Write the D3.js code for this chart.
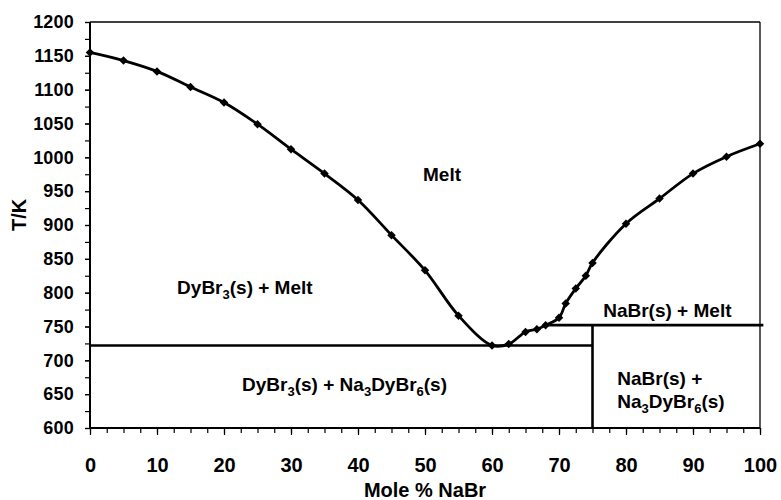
<!DOCTYPE html>
<html>
<head>
<meta charset="utf-8">
<script src="https://cdn.jsdelivr.net/npm/d3@7"></script>
<style>
  html, body { margin: 0; padding: 0; background: #fff; }
  svg { display: block; font-family: "Liberation Sans", Arial, sans-serif; font-weight: bold; }
</style>
</head>
<body>
<script>
// liquidus points
const molePct = [0, 5, 10, 15, 20, 25, 30, 35, 40, 45, 50, 55, 60, 62.5, 65, 66.7, 68, 70, 71, 72.5, 74, 75, 80, 85, 90, 95, 100];
const tempK = [1155, 1143, 1127, 1104, 1081, 1049, 1012, 976, 937, 885, 833, 766, 722, 724, 742, 746, 752, 763, 784, 806, 825, 844, 902, 939, 976, 1001, 1020];

const xTicks = [0, 10, 20, 30, 40, 50, 60, 70, 80, 90, 100];
const yTicks = [600, 650, 700, 750, 800, 850, 900, 950, 1000, 1050, 1100, 1150, 1200];

// invariant lines: [x0, T0, x1, T1]
const eutectic = [0, 722, 75, 722];
const peritectic = [68.3, 752, 100.5, 752];
const compound = [75, 600, 75, 752];

// phase field names (_n = subscript) and where they sit, in data units
const fieldNames = ["Melt", "DyBr_3(s) + Melt", "DyBr_3(s) + Na_3DyBr_6(s)", "NaBr(s) + Melt", "NaBr(s) +", "Na_3DyBr_6(s)"];
const fieldX = [49.7, 13.0, 22.7, 76.6, 78.7, 78.7];
const fieldT = [965, 798, 655, 764, 663.5, 629.6];

const width = 781;
const height = 500;
const margin = { top: 22, right: 21, bottom: 72, left: 90 };

const svg = d3.select("body").append("svg")
    .attr("width", width)
    .attr("height", height);

svg.append("rect").attr("width", width).attr("height", height).attr("fill", "#fff");

const x = d3.scaleLinear().domain([0, 100]).range([margin.left, width - margin.right]);
const y = d3.scaleLinear().domain([600, 1200]).range([height - margin.bottom, margin.top]);

// minor ticks
svg.append("g")
    .attr("transform", `translate(0,${y(600)})`)
    .call(d3.axisBottom(x).tickValues(d3.range(0, 100.1, 2.5)).tickSize(5).tickFormat(""))
    .call(g => g.select(".domain").remove())
    .call(g => g.selectAll("line").attr("stroke-width", 1.2));

svg.append("g")
    .attr("transform", `translate(${x(0)},0)`)
    .call(d3.axisLeft(y).tickValues(d3.range(600, 1200.1, 25)).tickSize(5).tickFormat(""))
    .call(g => g.select(".domain").remove())
    .call(g => g.selectAll("line").attr("stroke-width", 1.2));

// major ticks with labels
svg.append("g")
    .attr("transform", `translate(0,${y(600)})`)
    .call(d3.axisBottom(x).tickValues(xTicks).tickSize(7).tickPadding(23).tickFormat(d3.format("d")))
    .call(g => g.select(".domain").remove())
    .call(g => g.selectAll("line").attr("stroke-width", 1.2))
    .call(g => g.selectAll("text")
        .attr("font-family", "Liberation Sans, Arial, sans-serif")
        .attr("font-weight", "bold")
        .attr("font-size", 20)
        .attr("fill", "#000"));

svg.append("g")
    .attr("transform", `translate(${x(0)},0)`)
    .call(d3.axisLeft(y).tickValues(yTicks).tickSize(5).tickPadding(11).tickFormat(d3.format("d")))
    .call(g => g.select(".domain").remove())
    .call(g => g.selectAll("line").attr("stroke-width", 1.2))
    .call(g => g.selectAll("text")
        .attr("font-family", "Liberation Sans, Arial, sans-serif")
        .attr("font-weight", "bold")
        .attr("font-size", 18)
        .attr("letter-spacing", 0.2)
        .attr("fill", "#000"));

// frame: thick left/bottom, thin top/right
svg.append("line")
    .attr("x1", x(0)).attr("x2", x(100)).attr("y1", y(1200)).attr("y2", y(1200))
    .attr("stroke", "#000").attr("stroke-width", 1.3);
svg.append("line")
    .attr("x1", x(100)).attr("x2", x(100)).attr("y1", y(1200)).attr("y2", y(600))
    .attr("stroke", "#000").attr("stroke-width", 1.3);
svg.append("line")
    .attr("x1", x(0)).attr("x2", x(0)).attr("y1", y(1200)).attr("y2", y(600) + 1)
    .attr("stroke", "#000").attr("stroke-width", 2);
svg.append("line")
    .attr("x1", x(0) - 1).attr("x2", x(100)).attr("y1", y(600)).attr("y2", y(600))
    .attr("stroke", "#000").attr("stroke-width", 2);

// invariant lines
for (const [x0, t0, x1, t1] of [eutectic, peritectic, compound]) {
    svg.append("line")
        .attr("x1", x(x0)).attr("y1", y(t0))
        .attr("x2", x(x1)).attr("y2", y(t1))
        .attr("stroke", "#000")
        .attr("stroke-width", 2.6);
}

// liquidus
const points = molePct.map((m, i) => [m, tempK[i]]);

const line = d3.line()
    .x(d => x(d[0]))
    .y(d => y(d[1]))
    .curve(d3.curveCatmullRom.alpha(0.5));

svg.append("path")
    .datum(points)
    .attr("fill", "none")
    .attr("stroke", "#000")
    .attr("stroke-width", 2.8)
    .attr("d", line);

svg.append("g")
    .selectAll("path")
    .data(points)
    .join("path")
    .attr("transform", d => `translate(${x(d[0])},${y(d[1])}) rotate(45)`)
    .attr("d", d3.symbol(d3.symbolSquare, 36))
    .attr("fill", "#000");

// phase field labels
fieldNames.forEach((name, i) => {
    const t = svg.append("text")
        .attr("x", x(fieldX[i]))
        .attr("y", y(fieldT[i]))
        .attr("font-size", 19)
        .attr("fill", "#000");
    let shift = 0;
    name.split(/_(\d)/).forEach((p, j) => {
        if (!p) return;
        const sub = j % 2 === 1;
        const target = sub ? 5 : 0;
        t.append("tspan")
            .attr("dy", target - shift)
            .attr("font-size", sub ? 13 : 19)
            .text(p);
        shift = target;
    });
});

// axis titles
svg.append("text")
    .attr("x", x(50))
    .attr("y", 497)
    .attr("text-anchor", "middle")
    .attr("font-size", 20)
    .text("Mole % NaBr");

svg.append("text")
    .attr("transform", `translate(26,${y(915)}) rotate(-90)`)
    .attr("text-anchor", "middle")
    .attr("font-size", 20)
    .text("T/K");
</script>
</body>
</html>
